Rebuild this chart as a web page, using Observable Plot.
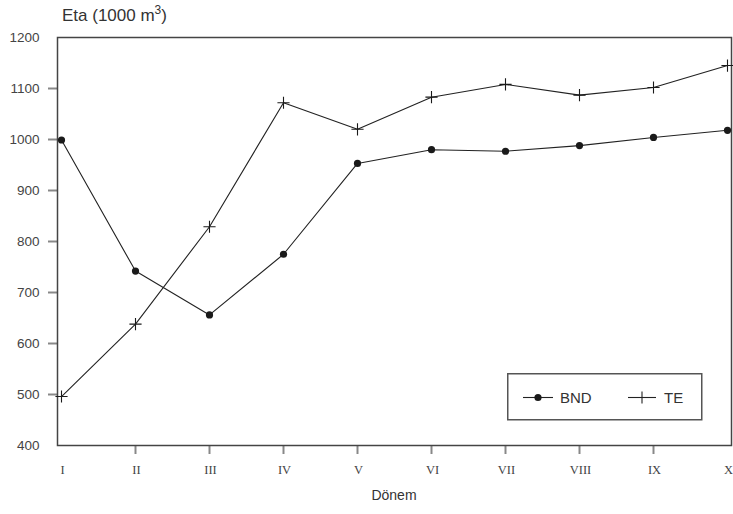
<!DOCTYPE html>
<html><head><meta charset="utf-8">
<script src="https://cdn.jsdelivr.net/npm/d3@7"></script>
<script src="https://cdn.jsdelivr.net/npm/@observablehq/plot@0.6"></script>
<style>
body{margin:0;background:#fff;}
#wrap{position:relative;width:733px;height:514px;font-family:"Liberation Sans",Arial,sans-serif;}
#wrap svg.plot{position:absolute;left:0;top:0;}
#title{position:absolute;left:62px;top:6px;font-size:17px;color:#333;white-space:nowrap;}
#title sup{font-size:12px;vertical-align:7px;line-height:0;}
#xlabel{position:absolute;left:0;width:788px;top:487px;text-align:center;font-size:14px;color:#333;}
#legend{position:absolute;left:507px;top:373px;}
</style></head><body>
<div id="wrap">
<div id="title">Eta (1000 m<sup>3</sup>)</div>
<div id="xlabel">Dönem</div>
</div>
<script>
const periods = ["I","II","III","IV","V","VI","VII","VIII","IX","X"];
const bnd = [999, 742, 656, 775, 953, 980, 977, 988, 1004, 1018];
const te  = [496, 638, 829, 1072, 1020, 1083, 1108, 1087, 1102, 1145];
const yTicks = [400, 500, 600, 700, 800, 900, 1000, 1100, 1200];
const seriesNames = ["BND", "TE"];

const bndRows = periods.map((p, i) => ({period: p, value: bnd[i]}));
const teRows = periods.map((p, i) => ({period: p, value: te[i]}));
const innerY = yTicks.slice(1, -1);
const innerX = periods.slice(1, -1);

const chart = Plot.plot({
  width: 733,
  height: 514,
  marginTop: 37,
  marginBottom: 69,
  marginLeft: 57,
  marginRight: 2,
  style: {background: "transparent", color: "#444"},
  x: {type: "point", domain: periods, padding: 0, label: null},
  y: {domain: [400, 1200], label: null},
  marks: [
    Plot.axisY({ticks: innerY, tickSize: 9, tickFormat: () => "", stroke: "#888", strokeWidth: 2, label: null}),
    Plot.axisY({ticks: yTicks, tickSize: 0, tickPadding: 18, tickFormat: d => String(d), fontSize: 13.5, fontFamily: "Liberation Sans, sans-serif", fill: "#444", label: null}),
    Plot.axisX({ticks: innerX, tickSize: 9, tickFormat: () => "", stroke: "#888", strokeWidth: 2, label: null}),
    Plot.axisX({ticks: periods, tickSize: 0, tickPadding: 20, fontSize: 12.5, fontFamily: "Liberation Serif, serif", fill: "#444", label: null, dx: 1}),
    Plot.frame({stroke: "#444", strokeWidth: 1.5}),
    Plot.line(bndRows, {x: "period", y: "value", stroke: "#222", strokeWidth: 1.1}),
    Plot.dot(bndRows, {x: "period", y: "value", r: 3.6, fill: "#1a1a1a"}),
    Plot.line(teRows, {x: "period", y: "value", stroke: "#222", strokeWidth: 1.1}),
    Plot.dot(teRows, {x: "period", y: "value", r: 4, symbol: "plus", stroke: "#1a1a1a", strokeWidth: 1.1})
  ]
});
chart.classList.add("plot");
const wrap = document.getElementById("wrap");
wrap.insertBefore(chart, wrap.firstChild);

// legend
const lg = d3.select("#wrap").append("svg").attr("id", "legend").attr("width", 196).attr("height", 48);
lg.append("rect").attr("x", 0.75).attr("y", 0.75).attr("width", 194).attr("height", 46)
  .attr("fill", "#fff").attr("stroke", "#555").attr("stroke-width", 1.5);
const cy = 24.5;
lg.append("line").attr("x1", 16).attr("x2", 46).attr("y1", cy).attr("y2", cy).attr("stroke", "#222").attr("stroke-width", 1.1);
lg.append("circle").attr("cx", 31).attr("cy", cy).attr("r", 3.6).attr("fill", "#1a1a1a");
lg.append("text").attr("x", 53).attr("y", cy).attr("dy", "0.36em").attr("font-size", 15).attr("fill", "#333")
  .attr("font-family", "Liberation Sans, sans-serif").text(seriesNames[0]);
lg.append("line").attr("x1", 121).attr("x2", 149).attr("y1", cy).attr("y2", cy).attr("stroke", "#222").attr("stroke-width", 1.1);
lg.append("line").attr("x1", 135).attr("x2", 135).attr("y1", cy - 6).attr("y2", cy + 6).attr("stroke", "#222").attr("stroke-width", 1.1);
lg.append("text").attr("x", 157).attr("y", cy).attr("dy", "0.36em").attr("font-size", 15).attr("fill", "#333")
  .attr("font-family", "Liberation Sans, sans-serif").text(seriesNames[1]);
</script>
</body></html>
